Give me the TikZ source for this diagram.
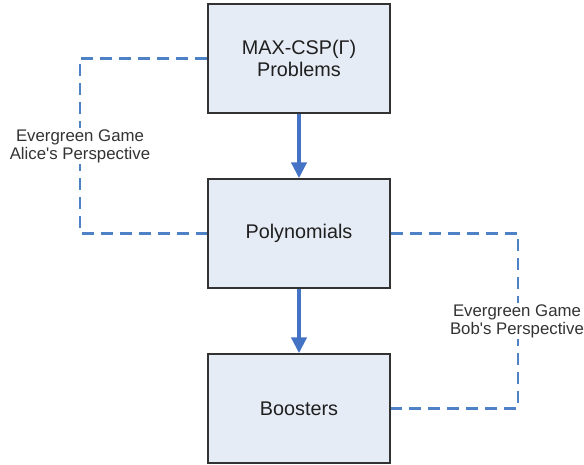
\documentclass[tikz,border=0pt]{standalone}
\usepackage{fontspec}
\setmainfont{Liberation Sans}
\usetikzlibrary{arrows.meta}
\definecolor{boxfill}{RGB}{230,236,245}
\definecolor{boxline}{RGB}{50,50,50}
\definecolor{dashblue}{RGB}{79,129,199}
\definecolor{arrblue}{RGB}{68,114,196}
\begin{document}
\begin{tikzpicture}[x=1pt,y=-1pt,
  stagebox/.style={draw=boxline, line width=1.4pt, fill=boxfill, minimum width=182pt, minimum height=109pt, inner sep=0pt, align=center, font=\fontsize{19.8}{21.5}\selectfont, text=black!88},
  dashlink/.style={draw=dashblue, line width=2.1pt, dash pattern=on 12pt off 7pt},
  flowarrow/.style={draw=arrblue, line width=4pt, -{Triangle[width=15pt,length=16pt]}},
  sidelabel/.style={fill=white, inner sep=1pt, align=center, font=\fontsize{16.8}{18}\selectfont, text=black!80}]
\useasboundingbox (0,0) rectangle (584,464);
\node[stagebox] (top) at (299,58.5) {MAX-CSP(Γ)\\Problems};
\node[stagebox] (mid) at (299,233.5) {Polynomials};
\node[stagebox] (bot) at (299,408.5) {Boosters};
\coordinate (a1) at (80,58.5);
\coordinate (a2) at (80,233.5);
\coordinate (b1) at (518,233.5);
\coordinate (b2) at (518,408.5);
\draw[dashlink] (top.west) -- (a1) -- (a2) -- (mid.west);
\draw[dashlink] (mid.east) -- (b1) -- (b2) -- (bot.east);
\node[sidelabel] (alice) at (80,146) {Evergreen Game\\Alice\textquotesingle s Perspective};
\node[sidelabel] (bob) at (517,321) {Evergreen Game\\Bob\textquotesingle s Perspective};
\draw[flowarrow] (top.south) -- (mid.north);
\draw[flowarrow] (mid.south) -- (bot.north);
\end{tikzpicture}
\end{document}
